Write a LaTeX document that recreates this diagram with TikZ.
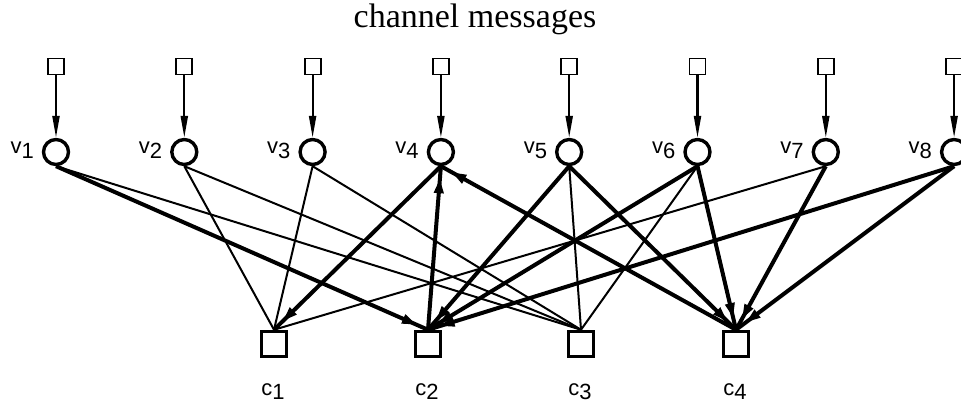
\documentclass[tikz,border=0pt]{standalone}
\usepackage{fontspec}
\setmainfont{Liberation Serif}
\setsansfont{Liberation Sans}
\usetikzlibrary{arrows.meta,decorations.markings}
\begin{document}
\begin{tikzpicture}[x=1pt,y=-1pt,
  vnode/.style={circle,draw,fill=white,line width=3.4pt,minimum size=25pt,inner sep=0pt},
  chan/.style={rectangle,draw,fill=white,line width=1.8pt,minimum size=16pt,inner sep=0pt},
  cnode/.style={rectangle,draw,fill=white,line width=3.5pt,minimum size=25pt,inner sep=0pt},
  lab/.style={font=\sffamily\fontsize{22}{22}\selectfont,inner sep=0pt},
  chanarrow/.style={line width=2.2pt,-{Triangle[length=22pt,width=7pt]}},
  thinedge/.style={line width=2pt},
  msg/.style={line width=4pt,postaction={decorate},
    decoration={markings,mark=at position -12pt with {\arrow{Triangle[length=15pt,width=9pt]}}}}
]
\useasboundingbox (0,0) rectangle (961,405);
\node[font=\fontsize{34}{34}\selectfont,anchor=base,inner sep=0pt] (title) at (475,27) {channel messages};
\foreach \i/\x in {1/56,2/184.3,3/312.6,4/440.9,5/569.2,6/697.5,7/825.8,8/954.1}{
  \node[vnode] (v\i) at (\x,152) {};
  \node[chan] (s\i) at (\x,66.5) {};
  \node[lab,anchor=base east] (lv\i) at (\x-22,153) {v\raisebox{-5pt}{\i}};
  \draw[chanarrow] (s\i) -- (v\i);
}
\foreach \j/\x in {1/274,2/428,3/581,4/736}{
  \node[cnode] (c\j) at (\x,344) {};
  \node[lab,anchor=base] (lc\j) at (\x-1,395) {c\raisebox{-4pt}{\j}};
}
% thin edges
\foreach \a/\b in {1/3,2/1,2/3,3/1,3/3,5/3,6/3,7/1}{
  \draw[thinedge] (v\a.south) -- (c\b.north);
}
% messages variable -> check
\foreach \a/\b in {1/2,4/1,5/2,5/4,6/2,6/4,7/4,8/2,8/4}{
  \draw[msg] (v\a.south) -- (c\b.north);
}
% messages check -> variable
\foreach \b/\a in {2/4,4/4}{
  \draw[msg] (c\b.north) -- (v\a.south);
}
\end{tikzpicture}
\end{document}
